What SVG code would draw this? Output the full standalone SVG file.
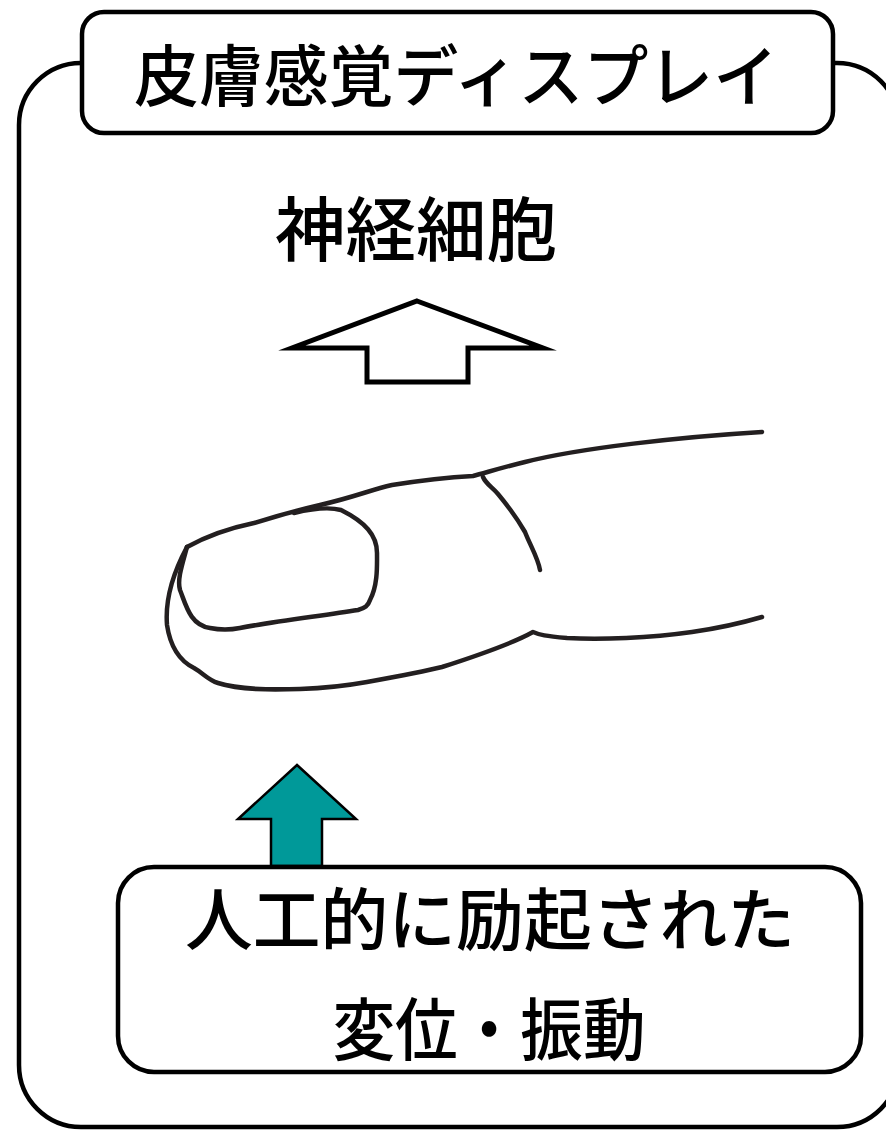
<svg xmlns="http://www.w3.org/2000/svg" width="886" height="1133" viewBox="0 0 886 1133">
  <style>
    .frame { fill: none; stroke: #000; stroke-width: 4.5; }
    .box { fill: #fff; stroke: #000; stroke-width: 4.5; }
    .label { font-family: "Noto Sans CJK JP", "Liberation Sans", sans-serif; font-weight: 500; fill: #000; text-anchor: middle; }
    .finger { fill: none; stroke: #231f20; stroke-width: 4.5; stroke-linecap: round; stroke-linejoin: round; }
  </style>

  <!-- outer display frame -->
  <g id="frame">
    <rect class="frame" x="19" y="63" width="880" height="1064" rx="62" ry="62"/>
  </g>

  <!-- title -->
  <g id="title">
    <rect class="box" x="82" y="12" width="751" height="121" rx="22" ry="22"/>
    <text class="label" x="456" y="101" font-size="67" textLength="644" lengthAdjust="spacingAndGlyphs">皮膚感覚ディスプレイ</text>
  </g>

  <!-- nerve cell label -->
  <g id="neuron">
    <text class="label" x="416" y="256" font-size="70" textLength="282" lengthAdjust="spacingAndGlyphs">神経細胞</text>
  </g>

  <!-- finger drawing -->
  <g id="finger">
    <path class="finger" d="M762,432 C680,437 580,448 525,462 C500,468 485,473 473,476 C455,477 430,479 392,485 C370,490 355,497 320,505 C290,512 270,518 254,523 C230,528 205,537 187,547"/>
    <path class="finger" d="M187,547 C182,565 177,580 180,590 C186,605 190,625 210,628 C220,630 230,630 240,628 C270,622 320,616 358,610 C365,608 368,606 370,600 C378,585 377,565 377,553 C377,535 365,522 341,510 C330,507 315,508 294,513"/>
    <path class="finger" d="M187,547 C172,575 165,600 167,625 C170,645 178,660 194,668 C203,673 208,680 218,683 C240,690 270,690 300,689 C330,688 345,686 367,682 C400,676 430,670 442,667 C470,658 510,645 533,632 C540,635 545,636 567,638 C600,640 650,638 692,632 C720,628 745,622 762,617"/>
    <path class="finger" d="M483,477 C486,484 492,487 498,494 C508,506 518,520 525,532 C530,545 538,558 540,570"/>
  </g>

  <!-- arrows -->
  <g id="connectors">
    <polygon points="417,301 543,348 468,348 468,382 367,382 367,348 292,348" fill="#fff" stroke="#000" stroke-width="5" stroke-linejoin="miter" stroke-miterlimit="10"/>
    <polygon points="297,765 356,819 322,819 322,866 271,866 271,819 238,819" fill="#009999" stroke="#000" stroke-width="2.5"/>
  </g>

  <!-- stimulus box -->
  <g id="stimulus">
    <rect class="box" x="118" y="867" width="743" height="205" rx="36" ry="36"/>
    <text class="label" x="490" y="945" font-size="68" textLength="610" lengthAdjust="spacingAndGlyphs">人工的に励起された</text>
    <text class="label" x="489" y="1055" font-size="68" textLength="313" lengthAdjust="spacingAndGlyphs">変位・振動</text>
  </g>
</svg>
